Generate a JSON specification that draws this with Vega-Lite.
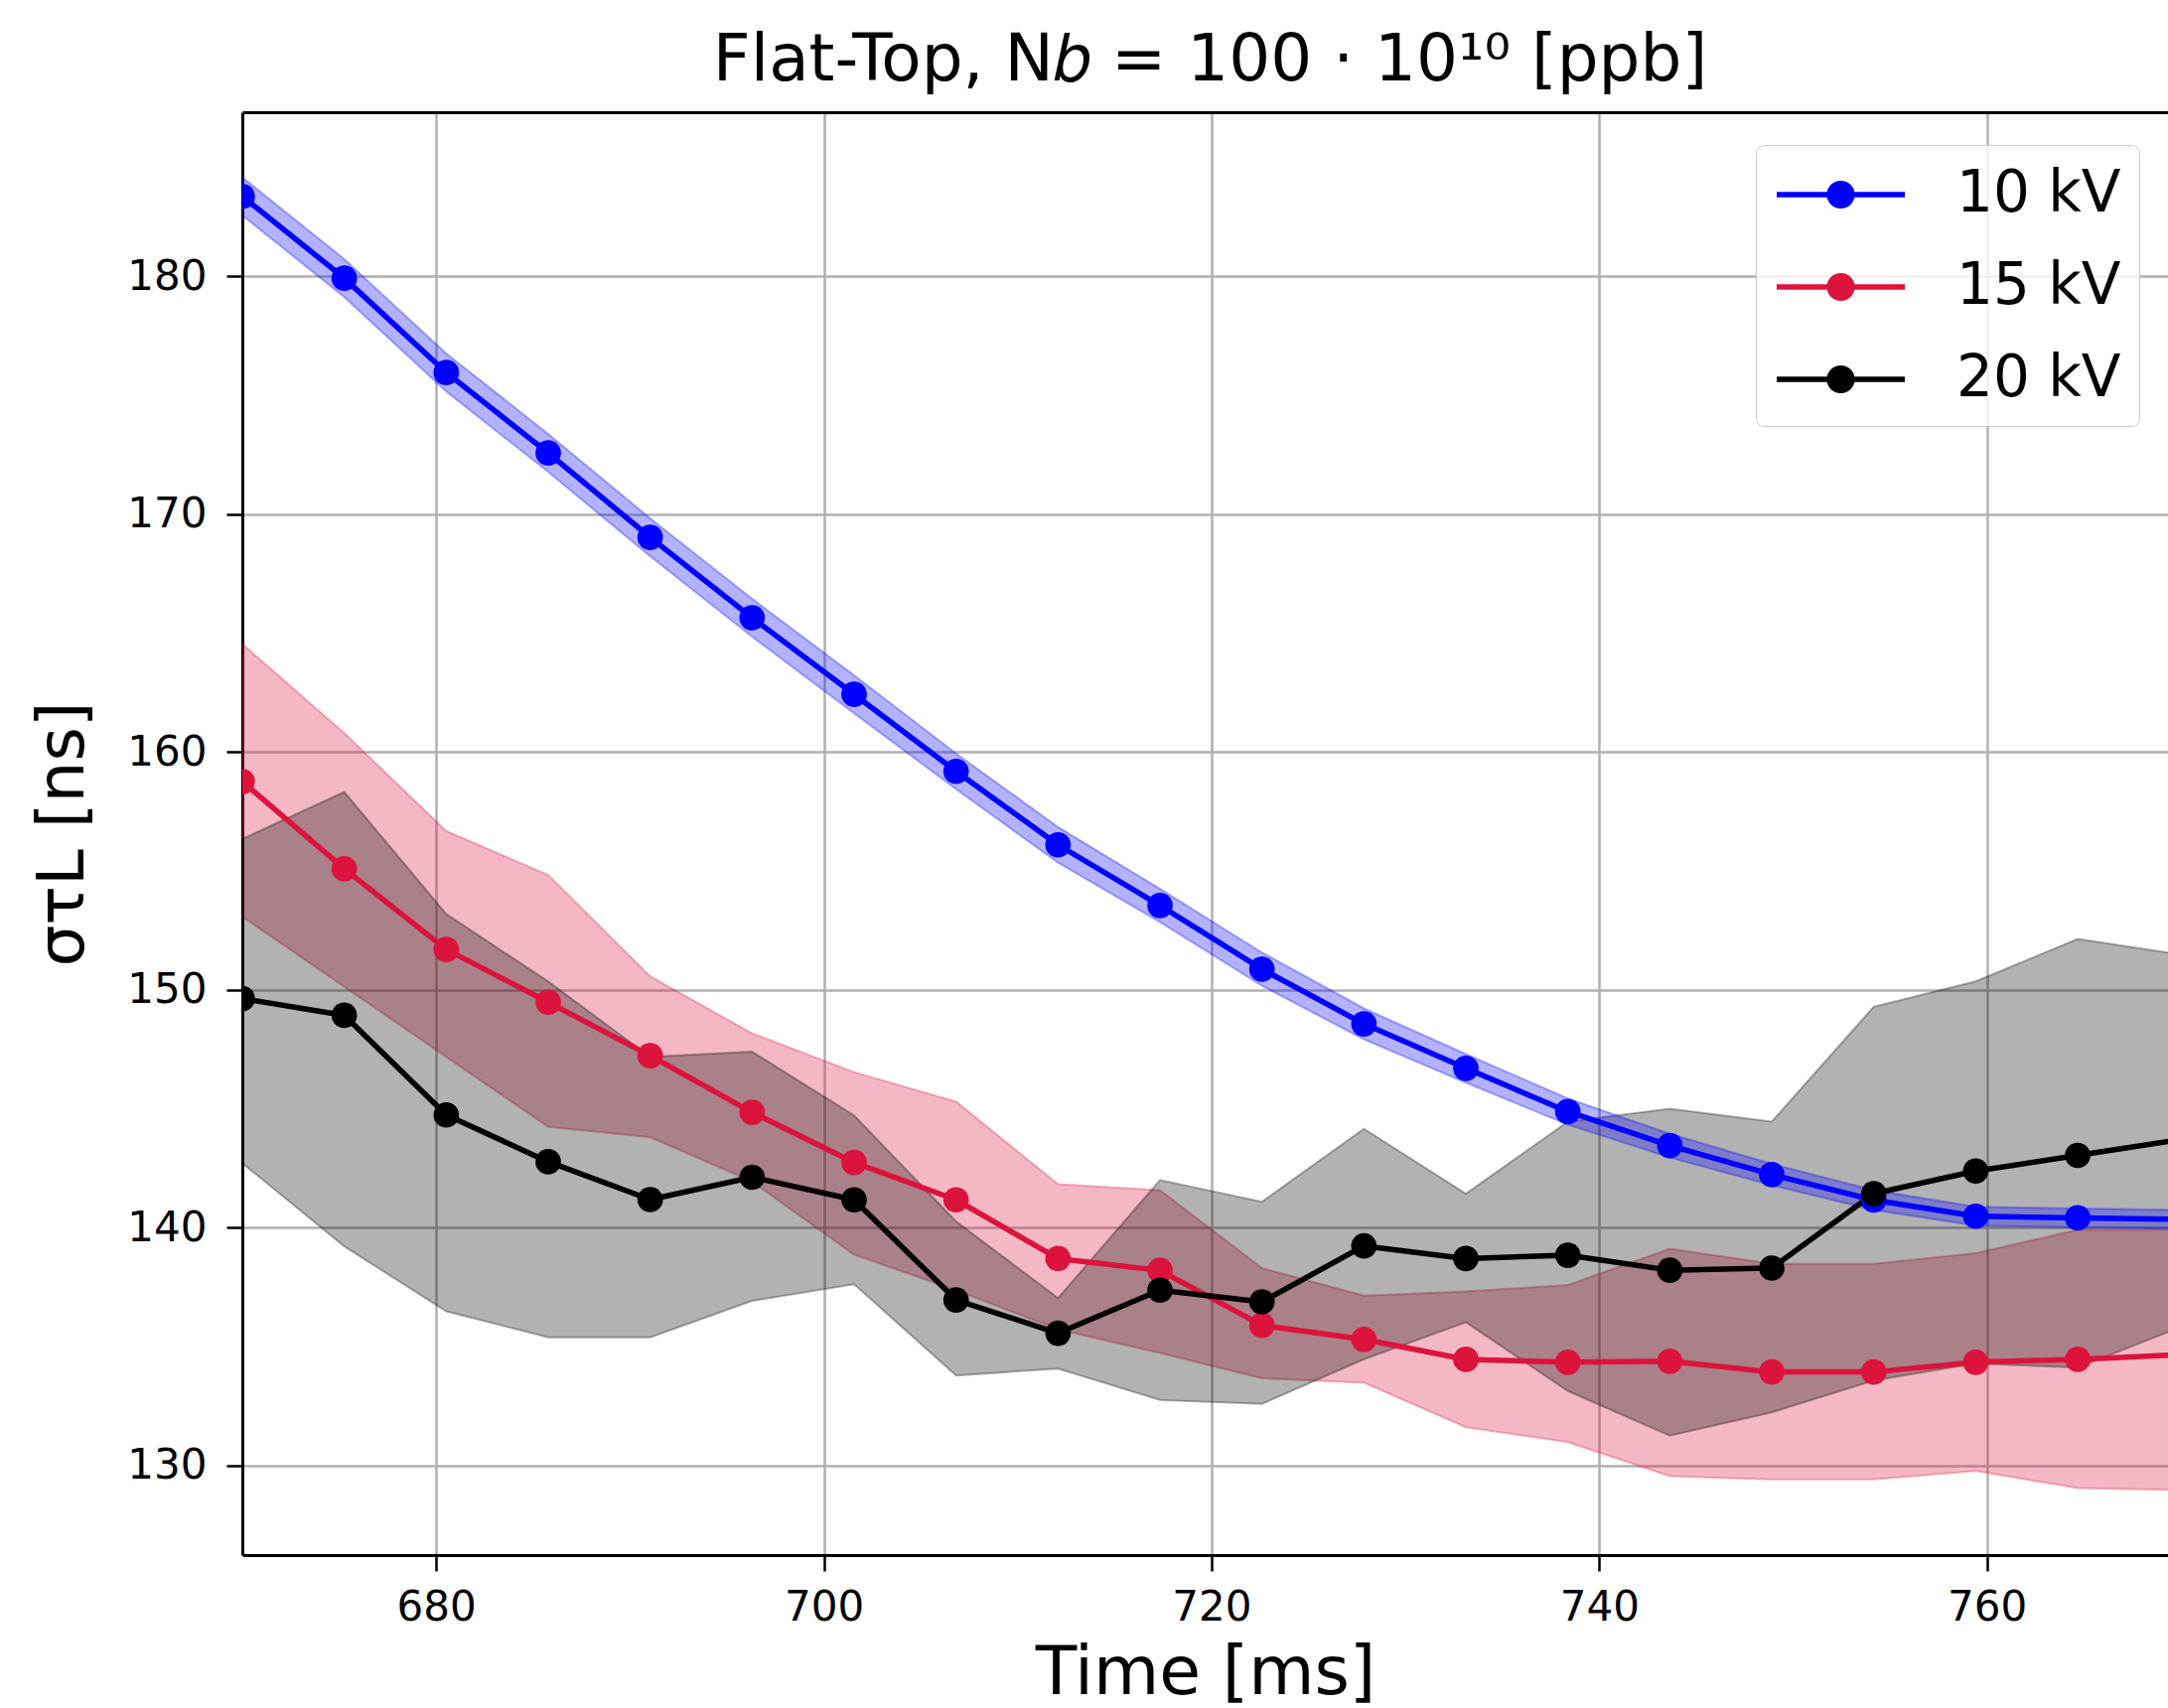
{
  "$schema": "https://vega.github.io/schema/vega-lite/v6.json",
  "width": 1939,
  "height": 1453,
  "autosize": "none",
  "padding": {"left": 244, "top": 113, "right": 0, "bottom": 154},
  "background": "white",
  "title": {"text": "Flat-Top, N𝑏 = 100 · 10¹⁰ [ppb]", "font": "DejaVu Sans", "fontSize": 66, "fontWeight": "normal", "color": "black", "frame": "group", "anchor": "middle", "offset": 18, "dx": 5},
  "config": {
    "view": {"stroke": null},
    "axis": {"labelFont": "DejaVu Sans", "titleFont": "DejaVu Sans", "labelColor": "black", "titleColor": "black", "titleFontWeight": "normal", "domainColor": "black", "domainWidth": 3, "tickColor": "black", "tickWidth": 2.5, "tickSize": 16, "labelFontSize": 42, "titleFontSize": 68, "gridColor": "#b0b0b0", "gridWidth": 2.5, "gridOpacity": 1}
  },
  "data": {"values": [
    {"t": 670, "s": "10 kV", "y": 183.37, "lo": 182.57, "hi": 184.17},
    {"t": 675.26, "s": "10 kV", "y": 179.93, "lo": 179.13, "hi": 180.73},
    {"t": 680.52, "s": "10 kV", "y": 175.96, "lo": 175.16, "hi": 176.76},
    {"t": 685.78, "s": "10 kV", "y": 172.58, "lo": 171.78, "hi": 173.38},
    {"t": 691.04, "s": "10 kV", "y": 169.03, "lo": 168.23, "hi": 169.83},
    {"t": 696.3, "s": "10 kV", "y": 165.65, "lo": 164.85, "hi": 166.45},
    {"t": 701.56, "s": "10 kV", "y": 162.43, "lo": 161.63, "hi": 163.23},
    {"t": 706.82, "s": "10 kV", "y": 159.19, "lo": 158.44, "hi": 159.94},
    {"t": 712.08, "s": "10 kV", "y": 156.1, "lo": 155.35, "hi": 156.85},
    {"t": 717.34, "s": "10 kV", "y": 153.55, "lo": 152.85, "hi": 154.25},
    {"t": 722.6, "s": "10 kV", "y": 150.87, "lo": 150.17, "hi": 151.57},
    {"t": 727.86, "s": "10 kV", "y": 148.57, "lo": 147.92, "hi": 149.22},
    {"t": 733.12, "s": "10 kV", "y": 146.7, "lo": 146.1, "hi": 147.3},
    {"t": 738.38, "s": "10 kV", "y": 144.88, "lo": 144.33, "hi": 145.43},
    {"t": 743.64, "s": "10 kV", "y": 143.45, "lo": 142.95, "hi": 143.95},
    {"t": 748.9, "s": "10 kV", "y": 142.23, "lo": 141.78, "hi": 142.68},
    {"t": 754.16, "s": "10 kV", "y": 141.16, "lo": 140.74, "hi": 141.58},
    {"t": 759.42, "s": "10 kV", "y": 140.48, "lo": 140.08, "hi": 140.88},
    {"t": 764.68, "s": "10 kV", "y": 140.41, "lo": 140.01, "hi": 140.81},
    {"t": 769.94, "s": "10 kV", "y": 140.35, "lo": 139.95, "hi": 140.75},
    {"t": 670, "s": "15 kV", "y": 158.76, "lo": 153.08, "hi": 164.54},
    {"t": 675.26, "s": "15 kV", "y": 155.09, "lo": 150.13, "hi": 160.8},
    {"t": 680.52, "s": "15 kV", "y": 151.7, "lo": 147.18, "hi": 156.68},
    {"t": 685.78, "s": "15 kV", "y": 149.48, "lo": 144.24, "hi": 154.83},
    {"t": 691.04, "s": "15 kV", "y": 147.23, "lo": 143.8, "hi": 150.57},
    {"t": 696.3, "s": "15 kV", "y": 144.85, "lo": 141.94, "hi": 148.17},
    {"t": 701.56, "s": "15 kV", "y": 142.74, "lo": 138.86, "hi": 146.54},
    {"t": 706.82, "s": "15 kV", "y": 141.17, "lo": 137.37, "hi": 145.3},
    {"t": 712.08, "s": "15 kV", "y": 138.7, "lo": 135.72, "hi": 141.83},
    {"t": 717.34, "s": "15 kV", "y": 138.2, "lo": 134.73, "hi": 141.58},
    {"t": 722.6, "s": "15 kV", "y": 135.89, "lo": 133.66, "hi": 138.3},
    {"t": 727.86, "s": "15 kV", "y": 135.3, "lo": 133.48, "hi": 137.14},
    {"t": 733.12, "s": "15 kV", "y": 134.46, "lo": 131.61, "hi": 137.32},
    {"t": 738.38, "s": "15 kV", "y": 134.34, "lo": 130.98, "hi": 137.59},
    {"t": 743.64, "s": "15 kV", "y": 134.38, "lo": 129.55, "hi": 139.11},
    {"t": 748.9, "s": "15 kV", "y": 133.93, "lo": 129.41, "hi": 138.48},
    {"t": 754.16, "s": "15 kV", "y": 133.93, "lo": 129.41, "hi": 138.48},
    {"t": 759.42, "s": "15 kV", "y": 134.34, "lo": 129.77, "hi": 138.93},
    {"t": 764.68, "s": "15 kV", "y": 134.46, "lo": 129.05, "hi": 139.91},
    {"t": 769.94, "s": "15 kV", "y": 134.66, "lo": 128.97, "hi": 139.91},
    {"t": 670, "s": "20 kV", "y": 149.63, "lo": 142.71, "hi": 156.35},
    {"t": 675.26, "s": "20 kV", "y": 148.93, "lo": 139.21, "hi": 158.32},
    {"t": 680.52, "s": "20 kV", "y": 144.74, "lo": 136.48, "hi": 153.19},
    {"t": 685.78, "s": "20 kV", "y": 142.77, "lo": 135.39, "hi": 150.35},
    {"t": 691.04, "s": "20 kV", "y": 141.18, "lo": 135.39, "hi": 147.18},
    {"t": 696.3, "s": "20 kV", "y": 142.12, "lo": 136.92, "hi": 147.4},
    {"t": 701.56, "s": "20 kV", "y": 141.17, "lo": 137.62, "hi": 144.72},
    {"t": 706.82, "s": "20 kV", "y": 136.96, "lo": 133.78, "hi": 140.26},
    {"t": 712.08, "s": "20 kV", "y": 135.56, "lo": 134.07, "hi": 137.04},
    {"t": 717.34, "s": "20 kV", "y": 137.37, "lo": 132.75, "hi": 142.0},
    {"t": 722.6, "s": "20 kV", "y": 136.88, "lo": 132.59, "hi": 141.09},
    {"t": 727.86, "s": "20 kV", "y": 139.23, "lo": 134.46, "hi": 144.16},
    {"t": 733.12, "s": "20 kV", "y": 138.7, "lo": 136.02, "hi": 141.43},
    {"t": 738.38, "s": "20 kV", "y": 138.84, "lo": 133.13, "hi": 144.46},
    {"t": 743.64, "s": "20 kV", "y": 138.21, "lo": 131.25, "hi": 145.0},
    {"t": 748.9, "s": "20 kV", "y": 138.3, "lo": 132.23, "hi": 144.46},
    {"t": 754.16, "s": "20 kV", "y": 141.43, "lo": 133.57, "hi": 149.29},
    {"t": 759.42, "s": "20 kV", "y": 142.38, "lo": 134.29, "hi": 150.36},
    {"t": 764.68, "s": "20 kV", "y": 143.04, "lo": 134.11, "hi": 152.14},
    {"t": 769.94, "s": "20 kV", "y": 143.7, "lo": 135.8, "hi": 151.5}
  ]},
  "resolve": {"axis": {"x": "independent"}},
  "layer": [
    {
      "transform": [{"filter": "datum.s === '15 kV'"}],
      "mark": {"type": "area", "fill": "#dc143c", "fillOpacity": 0.3, "stroke": "#dc143c", "strokeOpacity": 0.3, "strokeWidth": 2, "clip": true},
      "encoding": {
        "x": {"field": "t", "type": "quantitative", "scale": {"domain": [670, 769.34], "nice": false, "zero": false},
              "axis": {"orient": "bottom", "values": [680, 700, 720, 740, 760], "grid": true, "title": "Time [ms]", "labelPadding": 16, "titlePadding": 12}},
        "y": {"field": "lo", "type": "quantitative", "scale": {"domain": [126.23, 186.91], "nice": false, "zero": false},
              "axis": {"values": [130, 140, 150, 160, 170, 180], "grid": true, "title": "στL [ns]", "titleFontSize": 66, "labelPadding": 20, "titlePadding": 30}},
        "y2": {"field": "hi"}
      }
    },
    {
      "transform": [{"filter": "datum.s === '20 kV'"}],
      "mark": {"type": "area", "fill": "#000000", "fillOpacity": 0.3, "stroke": "#000000", "strokeOpacity": 0.3, "strokeWidth": 2, "clip": true},
      "encoding": {
        "x": {"field": "t", "type": "quantitative", "axis": null},
        "y": {"field": "lo", "type": "quantitative"},
        "y2": {"field": "hi"}
      }
    },
    {
      "transform": [{"filter": "datum.s === '10 kV'"}],
      "mark": {"type": "area", "fill": "#0000ff", "fillOpacity": 0.3, "stroke": "#0000ff", "strokeOpacity": 0.3, "strokeWidth": 2, "clip": true},
      "encoding": {
        "x": {"field": "t", "type": "quantitative",
              "axis": {"orient": "top", "labels": false, "ticks": false, "grid": false, "domain": true, "title": null}},
        "y": {"field": "lo", "type": "quantitative"},
        "y2": {"field": "hi"}
      }
    },
    {
      "mark": {"type": "line", "strokeWidth": 5.5, "strokeJoin": "round", "clip": true},
      "encoding": {
        "x": {"field": "t", "type": "quantitative", "axis": null},
        "y": {"field": "y", "type": "quantitative"},
        "color": {"field": "s", "type": "nominal",
                  "scale": {"domain": ["10 kV", "15 kV", "20 kV"], "range": ["#0000ff", "#dc143c", "#000000"]},
                  "legend": {"orient": "none", "legendX": 1524, "legendY": 33, "title": null,
                             "symbolType": "M-1,0L3.448,0M1.614,0A0.39,0.39,0,1,1,0.834,0A0.39,0.39,0,1,1,1.614,0Z",
                             "symbolSize": 3364, "symbolStrokeWidth": 5.5, "symbolOpacity": 1,
                             "labelFont": "DejaVu Sans", "labelFontSize": 58, "labelColor": "black", "labelOffset": 120, "labelLimit": 0,
                             "padding": 18, "rowPadding": 32, "strokeColor": "#cccccc", "fillColor": "rgba(255,255,255,0.8)", "cornerRadius": 8,
                             "encode": {"symbols": {"update": {"fill": {"scale": "color", "field": "value"}, "stroke": {"scale": "color", "field": "value"}, "opacity": {"value": 1}, "strokeWidth": {"value": 5.5}}}}}}
      }
    },
    {
      "transform": [{"filter": "datum.t < 769"}],
      "mark": {"type": "point", "filled": true, "size": 660, "opacity": 1, "clip": true},
      "encoding": {
        "x": {"field": "t", "type": "quantitative", "axis": null},
        "y": {"field": "y", "type": "quantitative"},
        "color": {"field": "s", "type": "nominal",
                  "scale": {"domain": ["10 kV", "15 kV", "20 kV"], "range": ["#0000ff", "#dc143c", "#000000"]},
                  "legend": {"orient": "none", "legendX": 1524, "legendY": 33, "title": null,
                             "symbolType": "M-1,0L3.448,0M1.614,0A0.39,0.39,0,1,1,0.834,0A0.39,0.39,0,1,1,1.614,0Z",
                             "symbolSize": 3364, "symbolStrokeWidth": 5.5, "symbolOpacity": 1,
                             "labelFont": "DejaVu Sans", "labelFontSize": 58, "labelColor": "black", "labelOffset": 120, "labelLimit": 0,
                             "padding": 18, "rowPadding": 32, "strokeColor": "#cccccc", "fillColor": "rgba(255,255,255,0.8)", "cornerRadius": 8,
                             "encode": {"symbols": {"update": {"fill": {"scale": "color", "field": "value"}, "stroke": {"scale": "color", "field": "value"}, "opacity": {"value": 1}, "strokeWidth": {"value": 5.5}}}}}}
      }
    }
  ]
}
